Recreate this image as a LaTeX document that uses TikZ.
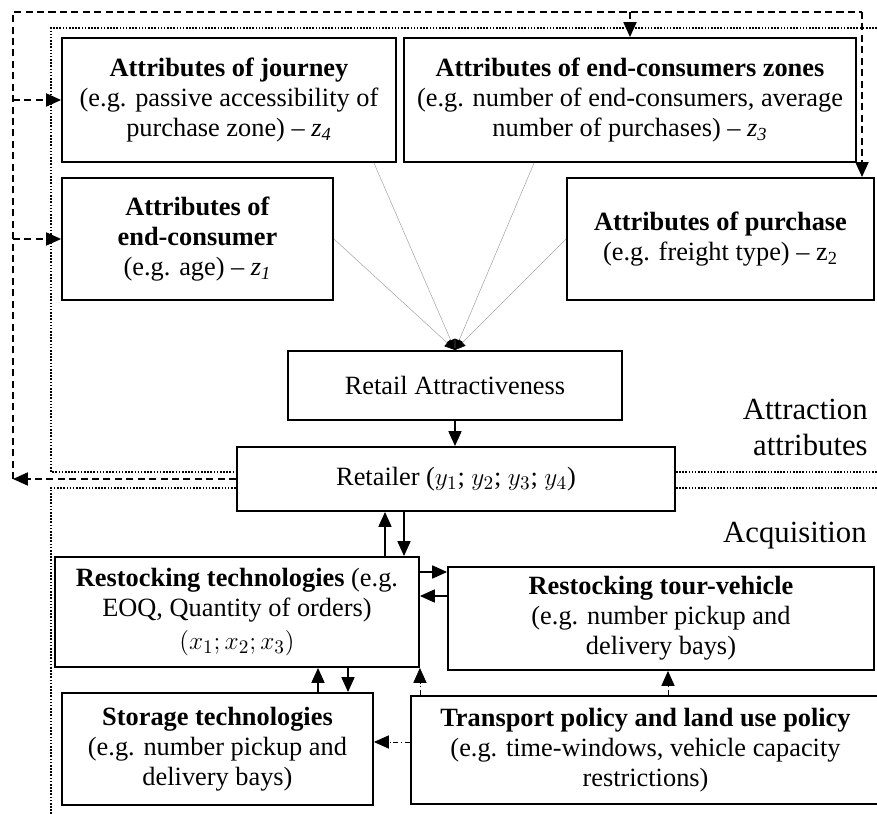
\documentclass[tikz,border=0pt]{standalone}
\usepackage{fontspec}
\setmainfont{Liberation Serif}
\usetikzlibrary{arrows.meta}

\tikzset{
  box/.style={draw, line width=1.1pt, inner sep=0pt, align=center, font=\fontsize{15}{17}\selectfont},
  flowarr/.style={line width=0.6pt, -{Triangle[length=8.5pt,width=7.5pt]}},
  fbarr/.style={line width=0.7pt, dash pattern=on 4pt off 2.5pt, -{Triangle[length=8.5pt,width=7.5pt]}},
  fbline/.style={line width=0.7pt, dash pattern=on 4pt off 2.5pt},
  bandln/.style={line width=1.2pt, dash pattern=on 0.9pt off 0.9pt},
  attrline/.style={gray!70, line width=0.3pt, -{Triangle[length=6pt,width=5pt,black]}},
  polarr/.style={line width=0.4pt, dash pattern=on 3pt off 1.5pt on 0.6pt off 1.5pt, -{Triangle[length=8.5pt,width=7.5pt]}},
  sidelbl/.style={inner sep=0pt, align=right, font=\fontsize{17.5}{20.5}\selectfont}
}

\begin{document}
\begin{tikzpicture}[x=0.02cm, y=-0.02cm]
\useasboundingbox (0,0) rectangle (877,814);

% attraction attributes
\node[box, minimum width=6.68cm, minimum height=2.48cm] (journey) at (229,100)
  {\textbf{Attributes of journey}\\(e.g. passive accessibility of\\purchase zone) -- \textit{z\textsubscript{4}}};
\node[box, minimum width=9.04cm, minimum height=2.48cm] (zones) at (630,100)
  {\textbf{Attributes of end-consumers zones}\\(e.g. number of end-consumers, average\\number of purchases) -- \textit{z\textsubscript{3}}};
\node[box, minimum width=5.42cm, minimum height=2.44cm] (consumer) at (197.5,239)
  {\textbf{Attributes of}\\\textbf{end-consumer}\\(e.g. age) -- \textit{z\textsubscript{1}}};
\node[box, minimum width=6.14cm, minimum height=2.44cm] (purchase) at (720.5,239)
  {\textbf{Attributes of purchase}\\(e.g. freight type) -- z\textsubscript{2}};

\node[box, minimum width=6.68cm, minimum height=1.38cm] (attract) at (455,385.5) {Retail Attractiveness};
\node[box, minimum width=8.76cm, minimum height=1.28cm] (retailer) at (456,479)
  {Retailer ($y_1$; $y_2$; $y_3$; $y_4$)};

% acquisition
\node[box, minimum width=7.28cm, minimum height=2.2cm] (restock) at (237,612)
  {\textbf{Restocking technologies} (e.g.\\EOQ, Quantity of orders)\\[2pt]$(x_1;x_2;x_3)$};
\node[box, minimum width=8.52cm, minimum height=2.06cm] (tour) at (661,618.5)
  {\textbf{Restocking tour-vehicle}\\(e.g. number pickup and\\delivery bays)};
\node[box, minimum width=6.22cm, minimum height=2.24cm] (storage) at (217.5,749)
  {\textbf{Storage technologies}\\(e.g. number pickup and\\delivery bays)};
\node[box, minimum width=9.38cm, minimum height=2.16cm] (policy) at (645.5,750)
  {\textbf{Transport policy and land use policy}\\(e.g. time-windows, vehicle capacity\\restrictions)};

\node[sidelbl, anchor=east] (attrlbl) at (868,427) {Attraction\\attributes};
\node[sidelbl, anchor=base east] (acqlbl) at (867,543) {Acquisition};

% helper points
\coordinate (fbL) at (13,12);
\coordinate (fbR) at (862,12);
\coordinate (bdTL) at (51,28);
\coordinate (bdTR) at (877,28);
\coordinate (bdA) at (51,472);
\coordinate (bdB) at (51,488);
\coordinate (bdBot) at (51,814);
\coordinate (bdAR) at (877,472);
\coordinate (bdBR) at (877,488);
\coordinate (upX) at (385,0);
\coordinate (dnX) at (404,0);
\coordinate (rgtY) at (0,572);
\coordinate (lftY) at (0,596);
\coordinate (stUpX) at (318,0);
\coordinate (stDnX) at (348,0);
\coordinate (polY) at (0,742);
\coordinate (polX) at (668,0);

% dotted bands
\draw[bandln] (bdTR) -- (bdTL) -- (bdA) -- (bdA -| retailer.west);
\draw[bandln] (bdBot) -- (bdB) -- (bdB -| retailer.west);
\draw[bandln] (bdA -| retailer.east) -- (bdAR);
\draw[bandln] (bdB -| retailer.east) -- (bdBR);

% feedback
\draw[fbarr] (retailer.west) -- (retailer.west -| fbL);
\draw[fbline] (retailer.west -| fbL) -- (fbL) -- (fbR);
\draw[fbarr] (fbR) -- (fbR |- purchase.north);
\draw[fbarr] (zones.north |- fbL) -- (zones.north);
\draw[fbarr] (fbL |- journey.west) -- (journey.west);
\draw[fbarr] (fbL |- consumer.west) -- (consumer.west);

% into attractiveness
\draw[attrline] ([xshift=-0.46cm]journey.south east) -- (attract.north);
\draw[attrline] (consumer.east) -- (attract.north);
\draw[attrline] ([xshift=2.62cm]zones.south west) -- (attract.north);
\draw[attrline] (purchase.west) -- (attract.north);

\draw[flowarr] (attract.south) -- (attract.south |- retailer.north);
\draw[flowarr] (restock.north -| upX) -- (retailer.south -| upX);
\draw[flowarr] (retailer.south -| dnX) -- (restock.north -| dnX);
\draw[flowarr] (restock.east |- rgtY) -- (tour.west |- rgtY);
\draw[flowarr] (tour.west |- lftY) -- (restock.east |- lftY);
\draw[flowarr] (storage.north -| stUpX) -- (restock.south -| stUpX);
\draw[flowarr] (restock.south -| stDnX) -- (storage.north -| stDnX);

\draw[polarr] (policy.north -| restock.south east) -- (restock.south east);
\draw[polarr] (policy.north -| polX) -- (tour.south -| polX);
\draw[polarr] (policy.west |- polY) -- (storage.east |- polY);

\end{tikzpicture}
\end{document}
